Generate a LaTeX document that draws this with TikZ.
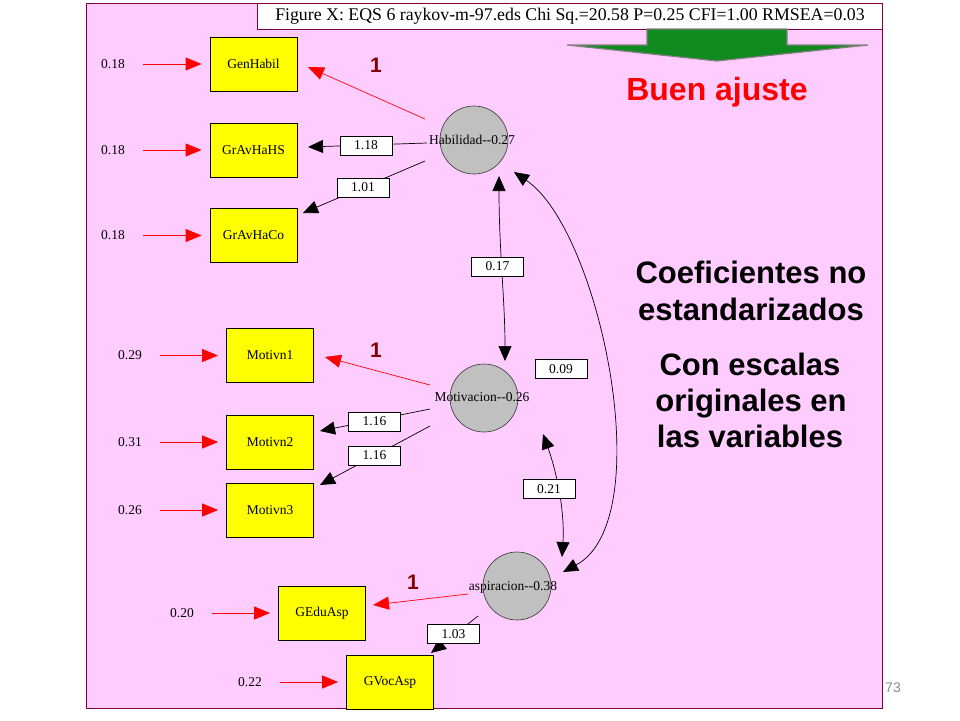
\documentclass[tikz,border=0pt]{standalone}
\usepackage{fontspec}
\setmainfont{Liberation Serif}
\newfontfamily\arialf{Liberation Sans}
\usetikzlibrary{arrows.meta,calc}
\definecolor{panelpink}{RGB}{255,204,255}
\definecolor{panelborder}{RGB}{128,0,64}
\definecolor{arrowgreen}{RGB}{16,138,30}
\definecolor{onered}{RGB}{128,0,0}
\definecolor{boxyellow}{RGB}{255,255,0}
\definecolor{latentgray}{RGB}{192,192,192}
\definecolor{pagegray}{RGB}{140,140,140}
\begin{document}
\begin{tikzpicture}[x=1pt,y=-1pt,
 obsbox/.style={draw=black, fill=boxyellow, minimum width=87pt, minimum height=54pt, inner sep=0pt, font=\fontsize{13.5}{13.5}\selectfont, line width=0.8pt},
 latent/.style={circle, draw=black!80, fill=latentgray, minimum size=68pt, inner sep=0pt, line width=0.6pt},
 latlabel/.style={font=\fontsize{13.5}{14}\selectfont, inner sep=0pt},
 errlabel/.style={font=\fontsize{13.5}{14}\selectfont, inner sep=0pt},
 wbox/.style={draw=black, fill=white, minimum width=52pt, minimum height=19pt, inner sep=0pt, font=\fontsize{13.5}{13.5}\selectfont, line width=0.8pt},
 errarrow/.style={red, line width=0.9pt, -{Triangle[length=16pt,width=13pt]}, shorten <=18pt, shorten >=8pt},
 loadred/.style={red, line width=0.7pt, -{Triangle[length=16pt,width=13pt]}},
 loadblack/.style={black, line width=0.7pt, -{Triangle[length=15pt,width=13pt]}},
 covar/.style={black, line width=0.7pt, {Triangle[length=15pt,width=13pt]}-{Triangle[length=15pt,width=13pt]}},
 onelabel/.style={text=onered, font=\arialf\bfseries\fontsize{21}{21}\selectfont, inner sep=0pt},
 bigtext/.style={font=\arialf\bfseries\fontsize{31}{31}\selectfont, inner sep=0pt, anchor=base},
]
\path[use as bounding box] (0,0) rectangle (960,720);
\fill[white] (0,0) rectangle (960,720);
% panel
\draw[panelborder, fill=panelpink, line width=1pt] (86,3) rectangle (882,708);
% title
\node[draw=panelborder, fill=white, minimum width=625pt, minimum height=26pt, inner sep=0pt, anchor=north west, line width=1pt, font=\fontsize{17.8}{18}\selectfont] (title) at (257,3) {Figure X: EQS 6 raykov-m-97.eds Chi Sq.=20.58 P=0.25 CFI=1.00 RMSEA=0.03};
% green arrow
\draw[draw=gray, fill=arrowgreen, line width=1.2pt, line join=miter] (647,29) -- (787,29) -- (787,45) -- (868,45) -- (717,61) -- (567,45) -- (647,45) -- cycle;
\node[bigtext, text=red, font=\arialf\bfseries\fontsize{32}{32}\selectfont] (buen) at (717,100) {Buen ajuste};
% right text
\node[bigtext] (c1) at (751,283) {Coeficientes no};
\node[bigtext] (c2) at (751,320) {estandarizados};
\node[bigtext] (c3) at (750,375) {Con escalas};
\node[bigtext] (c4) at (751,411) {originales en};
\node[bigtext] (c5) at (750,447) {las variables};
\node[text=pagegray, font=\arialf\fontsize{14}{14}\selectfont, inner sep=0pt] (pg) at (893,688) {73};
% observed
\node[obsbox] (gh) at (253.5,64) {GenHabil};
\node[obsbox] (hs) at (253.5,150) {GrAvHaHS};
\node[obsbox] (hc) at (253.5,235.5) {GrAvHaCo};
\node[obsbox] (m1) at (270,355.5) {Motivn1};
\node[obsbox] (m2) at (270,442) {Motivn2};
\node[obsbox] (m3) at (270,510) {Motivn3};
\node[obsbox] (ge) at (322,613) {GEduAsp};
\node[obsbox] (gv) at (390,682) {GVocAsp};
% errors
\node[errlabel] (e1) at (113,64) {0.18};
\node[errlabel] (e2) at (113,150) {0.18};
\node[errlabel] (e3) at (113,235.5) {0.18};
\node[errlabel] (e4) at (130,355.5) {0.29};
\node[errlabel] (e5) at (130,442) {0.31};
\node[errlabel] (e6) at (130,510) {0.26};
\node[errlabel] (e7) at (182,613) {0.20};
\node[errlabel] (e8) at (250,682) {0.22};
\draw[errarrow] (e1.east) -- (gh.west);
\draw[errarrow] (e2.east) -- (hs.west);
\draw[errarrow] (e3.east) -- (hc.west);
\draw[errarrow] (e4.east) -- (m1.west);
\draw[errarrow] (e5.east) -- (m2.west);
\draw[errarrow] (e6.east) -- (m3.west);
\draw[errarrow] (e7.east) -- (ge.west);
\draw[errarrow] (e8.east) -- (gv.west);
% latent
\node[latent] (hab) at (474,140) {};
\node[latent] (mot) at (484,398) {};
\node[latent] (asp) at (517,586) {};
% connector coordinates
\coordinate (habA) at (425,119); \coordinate (ghT) at (308,67);
\coordinate (habB) at (427,143); \coordinate (hsT) at (308,147);
\coordinate (habC) at (425,161); \coordinate (hcT) at (303,213);
\coordinate (motA) at (430,385); \coordinate (m1T) at (325,357);
\coordinate (motB) at (430,409); \coordinate (m2T) at (320,431);
\coordinate (motC) at (430,426); \coordinate (m3T) at (320,485);
\coordinate (aspA) at (468,594); \coordinate (geT) at (373,605);
\coordinate (aspB) at (478,616); \coordinate (gvT) at (431,653);
\coordinate (habD) at (499,176); \coordinate (motD) at (505,361);
\coordinate (habE) at (514,172); \coordinate (aspE) at (563,572);
\coordinate (motE) at (543,434); \coordinate (aspF) at (562,557);
% loadings
\draw[loadred] (habA) -- (ghT);
\draw[loadblack] (habB) -- (hsT);
\draw[loadblack] (habC) -- (hcT);
\draw[loadred] (motA) -- (m1T);
\draw[loadblack] (motB) -- (m2T);
\draw[loadblack] (motC) -- (m3T);
\draw[loadred] (aspA) -- (geT);
\draw[loadblack] (aspB) -- (gvT);
% covariances
\draw[covar] (habD) .. controls (499,250) and (505,300) .. (motD);
\draw[covar] (habE) .. controls (600,230) and (660,520) .. (aspE);
\draw[covar] (motE) .. controls (556,470) and (565,510) .. (aspF);
% latent labels
\node[latlabel] (habl) at (472,140) {Habilidad-{}-0.27};
\node[latlabel] (motl) at (482,397) {Motivacion-{}-0.26};
\node[latlabel] (aspl) at (513,587) {aspiracion-{}-0.38};
% weight boxes
\node[wbox] (w118) at (366,145.5) {1.18};
\node[wbox] (w101) at (363,187.5) {1.01};
\node[wbox] (w116a) at (374.5,421.5) {1.16};
\node[wbox] (w116b) at (374.5,455.5) {1.16};
\node[wbox] (w103) at (453.5,634) {1.03};
\node[wbox] (w017) at (497.5,266.5) {0.17};
\node[wbox] (w009) at (561,369) {0.09};
\node[wbox] (w021) at (549,489) {0.21};
% fixed loadings
\node[onelabel] (one1) at (376,65) {1};
\node[onelabel] (one2) at (376,350) {1};
\node[onelabel] (one3) at (413,582) {1};
\end{tikzpicture}
\end{document}
